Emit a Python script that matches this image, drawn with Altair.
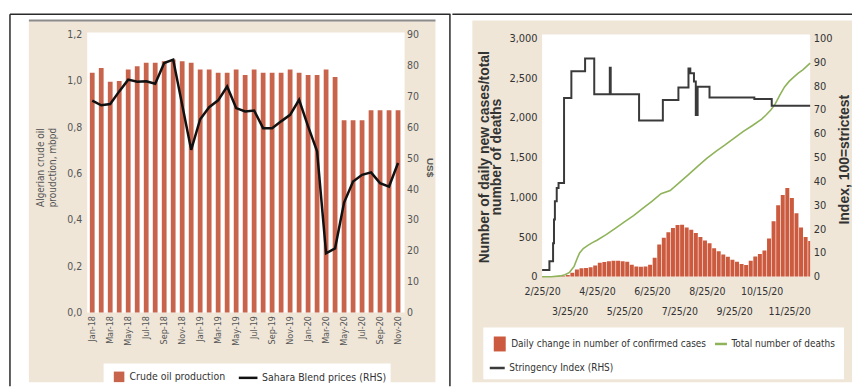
import altair as alt
import pandas as pd

# ---------------- Algeria: crude output and Sahara Blend price ----------------
months = ['Jan-18', 'Feb-18', 'Mar-18', 'Apr-18', 'May-18', 'Jun-18', 'Jul-18', 'Aug-18',
          'Sep-18', 'Oct-18', 'Nov-18', 'Dec-18', 'Jan-19', 'Feb-19', 'Mar-19', 'Apr-19',
          'May-19', 'Jun-19', 'Jul-19', 'Aug-19', 'Sep-19', 'Oct-19', 'Nov-19', 'Dec-19',
          'Jan-20', 'Feb-20', 'Mar-20', 'Apr-20', 'May-20', 'Jun-20', 'Jul-20', 'Aug-20',
          'Sep-20', 'Oct-20', 'Nov-20']
production = [1.035, 1.056, 0.996, 1.000, 1.049, 1.063, 1.078, 1.078, 1.085, 1.092, 1.085, 1.078,
              1.049, 1.049, 1.035, 1.035, 1.049, 1.025, 1.049, 1.035, 1.035, 1.035, 1.049, 1.035,
              1.025, 1.025, 1.049, 1.017, 0.830, 0.830, 0.830, 0.873, 0.873, 0.873, 0.873]
sahara_price = [68.6, 67.1, 67.5, 71.6, 75.4, 74.7, 74.9, 74.1, 80.8, 81.9, 67.3, 52.7,
                62.6, 66.5, 68.7, 73.2, 66.2, 65.1, 65.4, 59.7, 59.7, 61.9, 64.0, 68.9,
                60.3, 52.2, 19.2, 20.8, 35.6, 42.4, 44.6, 45.4, 41.9, 40.8, 48.4]
oil_series = ['Crude oil production', 'Sahara Blend prices (RHS)']

# ---------------- Algeria: COVID-19 (day 0 = 2/25/20) ----------------
case_day = list(range(0, 295, 5))
daily_cases = [0, 0, 2, 5, 10, 20, 50, 90, 105, 110,
               120, 140, 175, 185, 195, 200, 200, 195, 190, 150,
               130, 125, 130, 150, 240, 405, 490, 560, 615, 650,
               655, 620, 590, 552, 500, 455, 420, 360, 320, 280,
               250, 215, 190, 160, 148, 200, 255, 285, 330, 480,
               700, 900, 1030, 1117, 990, 800, 620, 500, 450]
death_day = [0, 10, 20, 25, 30, 35, 38, 41, 45, 50, 55, 60, 70, 80, 90, 100, 110, 120, 130, 140,
             150, 160, 170, 180, 190, 200, 210, 220, 230, 240, 245, 250, 255, 260, 265, 270,
             275, 280, 285, 293]
total_deaths = [0, 0, 10, 25, 55, 130, 220, 300, 355, 395, 430, 460, 530, 610, 690, 770, 860, 950,
                1045, 1085, 1185, 1285, 1390, 1490, 1580, 1660, 1745, 1830, 1905, 1985, 2040, 2100,
                2180, 2290, 2390, 2460, 2515, 2565, 2605, 2690]
stringency_day = [0, 8, 12, 13, 14, 16, 18, 24, 32, 47, 57, 74, 75, 106, 132, 149, 160, 162,
                  166, 168, 170, 183, 232, 251, 293]
stringency = [2.8, 6.5, 14.0, 24.0, 31.7, 37.2, 39.3, 75.0, 86.3, 91.6, 76.6, 87.7, 76.6, 65.6,
              74.2, 79.4, 87.4, 85.4, 82.0, 67.9, 79.8, 75.2, 74.6, 71.8, 71.8]
date_ticks = [0, 30, 60, 90, 120, 150, 180, 210, 240, 270]
date_labels = ['2/25/20', '3/25/20', '4/25/20', '5/25/20', '6/25/20', '7/25/20', '8/25/20',
               '9/25/20', '10/15/20', '11/25/20']
covid_series = ['Daily change in number of confirmed cases', 'Total number of deaths',
                'Stringency Index (RHS)']

# ---------------- styling ----------------
NARROW = 'DejaVu Sans Condensed, Liberation Sans Narrow, sans-serif'
SANS = 'Liberation Sans, Arial, sans-serif'
BEIGE = '#efe6d8'
OIL_RED = '#c8644c'
CASE_RED = '#cc5a3e'
DEATH_GREEN = '#8fb35a'
INDEX_GREY = '#3a3a3a'
FRAME = '#2a2a2a'

one = pd.DataFrame({'k': [0]})


def box(x1, x2, y1, y2, color):
    return alt.Chart(one).mark_rect(color=color).encode(
        x=alt.value(x1), x2=alt.value(x2), y=alt.value(y1), y2=alt.value(y2))


def hline(x1, x2, y, color, w):
    return alt.Chart(one).mark_rule(color=color, strokeWidth=w).encode(
        x=alt.value(x1), x2=alt.value(x2), y=alt.value(y))


def vline(x, y1, y2, color, w):
    return alt.Chart(one).mark_rule(color=color, strokeWidth=w).encode(
        x=alt.value(x), y=alt.value(y1), y2=alt.value(y2))


def legend(x, y, size, **kw):
    # legends are placed in the coordinates of the first panel's plot area
    return alt.Legend(title=None, orient='none', legendX=x, legendY=y, symbolSize=size,
                      symbolOffset=0, padding=0, labelFont=NARROW, labelColor='#333',
                      labelLimit=0, **kw)


# ================= left panel =================
LW, LH = 316, 279
oil = pd.DataFrame({'month': months, 'production': production, 'price': sahara_price,
                    'bar_series': oil_series[0], 'line_series': oil_series[1]})

oil_x = alt.X('month:N', sort=months, title=None,
              scale=alt.Scale(paddingInner=0.47, paddingOuter=0.24),
              axis=alt.Axis(values=months[::2], labelAngle=-90, labelFont=NARROW,
                            labelFontSize=9, labelColor='#555', labelPadding=3,
                            domain=False, ticks=False, zindex=1))

oil_bars = alt.Chart(oil).mark_bar().encode(
    x=oil_x,
    y=alt.Y('production:Q', scale=alt.Scale(domain=[0, 1.2]),
            axis=alt.Axis(orient='left', values=[0, 0.2, 0.4, 0.6, 0.8, 1.0, 1.2],
                          labelExpr="replace(format(datum.value, '.1f'), '.', ',')",
                          labelFont=NARROW, labelFontSize=10.5, labelColor='#555',
                          labelPadding=6, domain=False, ticks=False, grid=False, zindex=1,
                          title=['Algerian crude oil', 'proudction, mbpd'],
                          titleFont=NARROW, titleFontSize=10, titleFontWeight='normal',
                          titleColor='#555', titleAngle=-90, titleAlign='center',
                          titleBaseline='middle', titleLineHeight=12,
                          titleX=-47.5, titleY=133)),
    color=alt.Color('bar_series:N', scale=alt.Scale(domain=[oil_series[0]], range=[OIL_RED]),
                    legend=legend(25, 337, 112, symbolType='square', labelFontSize=10.5,
                                  labelOffset=4))
)

oil_line = alt.Chart(oil).mark_line(strokeWidth=2.5).encode(
    x=oil_x,
    y=alt.Y('price:Q', scale=alt.Scale(domain=[0, 90]),
            axis=alt.Axis(orient='right', values=list(range(0, 100, 10)),
                          labelFont=NARROW, labelFontSize=10.5, labelColor='#555',
                          labelPadding=4, domain=False, ticks=False, grid=False, zindex=1,
                          title='US$', titleFont=SANS, titleFontSize=10,
                          titleFontWeight='bold', titleColor='#555', titleAngle=90,
                          titleAlign='center', titleBaseline='middle', titleX=27, titleY=133)),
    stroke=alt.Stroke('line_series:N', scale=alt.Scale(domain=[oil_series[1]], range=['#111111']),
                      legend=legend(150, 333.5, 350, symbolStrokeWidth=2.5, labelFontSize=10.5,
                                    labelOffset=3))
)

left_panel = alt.layer(
    box(-88, 364, -34, 353, 'white'),
    box(-59, 349, -14, 349, BEIGE),
    hline(-59, 349, -14, '#8c8c8c', 2),
    box(-0.5, 318, -2, LH, 'white'),
    box(16, 304, 330, 353, 'white'),
    hline(-78, 364, -20.5, FRAME, 1.5),
    vline(-78, -20.5, 353, FRAME, 1.5),
    vline(363.5, -20.5, 353, FRAME, 1.5),
    oil_bars,
    oil_line,
).resolve_scale(y='independent', color='independent', stroke='independent'
).properties(width=LW, height=LH)

# ================= right panel =================
# plot area starts 4 px above the top tick so both panels share one origin row
RW, RH = 269, 243
COUNT_MAX = 3000 * RH / 239
INDEX_MAX = 100 * RH / 239
RX = 454  # right panel origin, measured from the left panel origin

cases = pd.DataFrame({'start': case_day, 'cases': daily_cases})
cases['end'] = cases['start'] + 5
cases['series'] = covid_series[0]
deaths = pd.DataFrame({'day': death_day, 'deaths': total_deaths, 'series': covid_series[1]})
index = pd.DataFrame({'day': stringency_day, 'index': stringency, 'series': covid_series[2]})

labels_js = '[' + ','.join("'" + s + "'" for s in date_labels) + ']'
label_expr = ("(datum.value / 30) % 2 == 0 ? [" + labels_js + "[datum.value / 30], ''] : ['', "
              + labels_js + "[datum.value / 30]]")
date_axis = alt.Axis(values=date_ticks, labelExpr=label_expr,
                     labelFont=NARROW, labelFontSize=10.5, labelColor='#333', labelPadding=10,
                     labelLineHeight=20, labelAngle=0, labelFlush=False, labelOverlap=False,
                     domain=False, ticks=False, grid=False, zindex=1)
day_scale = alt.Scale(domain=[0, 293], nice=False, zero=False)


def count_y(field):
    return alt.Y(field, scale=alt.Scale(domain=[0, COUNT_MAX], nice=False),
                 axis=alt.Axis(orient='left', values=list(range(0, 3001, 500)),
                               labelExpr="format(datum.value, ',')",
                               labelFont=NARROW, labelFontSize=11, labelColor='#333',
                               labelPadding=5, domain=False, ticks=False, grid=False, zindex=1,
                               title=['Number of daily new cases/total', 'number of deaths'],
                               titleFont=SANS, titleFontSize=14, titleFontWeight='bold',
                               titleColor='#333', titleAngle=-90, titleAlign='center',
                               titleBaseline='middle', titleLineHeight=12.5,
                               titleX=-58, titleY=122.5))


case_bars = alt.Chart(cases).mark_bar(binSpacing=0.6, clip=True).encode(
    x=alt.X('start:Q', bin='binned', scale=day_scale, axis=date_axis, title=None),
    x2='end:Q',
    y=count_y('cases:Q'),
    color=alt.Color('series:N', scale=alt.Scale(domain=[covid_series[0]], range=[CASE_RED]),
                    legend=legend(RX - 49, 302, 225, symbolType='M-0.8,-1H0.8V1H-0.8Z',
                                  labelFontSize=10, labelOffset=3))
)

death_line = alt.Chart(deaths).mark_line(strokeWidth=1.6, color=DEATH_GREEN).encode(
    x=alt.X('day:Q', scale=day_scale, axis=date_axis, title=None),
    y=count_y('deaths:Q'),
    stroke=alt.Stroke('series:N', scale=alt.Scale(domain=[covid_series[1]], range=[DEATH_GREEN]),
                      legend=legend(RX + 174, 303, 144, symbolStrokeWidth=2.5,
                                    labelFontSize=10, labelOffset=3))
)

index_line = alt.Chart(index).mark_line(strokeWidth=2, color=INDEX_GREY,
                                        interpolate='step-after').encode(
    x=alt.X('day:Q', scale=day_scale, axis=date_axis, title=None),
    y=alt.Y('index:Q', scale=alt.Scale(domain=[0, INDEX_MAX], nice=False),
            axis=alt.Axis(orient='right', values=list(range(0, 101, 10)),
                          labelFont=NARROW, labelFontSize=11, labelColor='#333',
                          labelPadding=3, domain=False, ticks=False, grid=False, zindex=1,
                          title='Index, 100=strictest', titleFont=SANS, titleFontSize=14,
                          titleFontWeight='bold', titleColor='#333', titleAngle=-90,
                          titleAlign='center', titleBaseline='middle',
                          titleX=34, titleY=125)),
    strokeDash=alt.StrokeDash('series:N',
                              scale=alt.Scale(domain=[covid_series[2]], range=[[1, 0]]),
                              legend=legend(RX - 52, 325.5, 225, symbolStrokeWidth=2.5,
                                            symbolStrokeColor=INDEX_GREY,
                                            labelFontSize=10, labelOffset=3))
)

right_panel = alt.layer(
    box(-90, 311, -34, 353, 'white'),
    box(-70, 311, -14, 349, BEIGE),
    box(0, RW, 0, RH, 'white'),
    box(-59, 303, 294, 346, 'white'),
    hline(-90, 311, -20.5, FRAME, 1.5),
    alt.layer(case_bars, death_line),
    index_line,
).resolve_scale(y='independent').properties(width=RW, height=RH)

chart = alt.hconcat(left_panel, right_panel, spacing=0).properties(
    padding=0, background='white'
).configure_view(strokeWidth=0)

chart.save('out.html', embed_options={'renderer': 'svg', 'actions': False})
